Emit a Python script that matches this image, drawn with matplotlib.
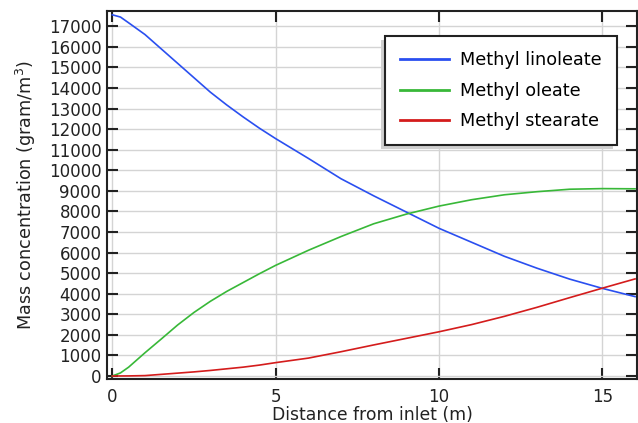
import matplotlib
matplotlib.use('Agg')
import matplotlib.pyplot as plt
from matplotlib.patches import Rectangle

plt.rcParams['font.family'] = ['DejaVu Sans']

# distance from inlet (m) and mass concentration (gram/m^3)
dist = [0, 0.25, 0.5, 1, 1.5, 2, 2.5, 3, 3.5, 4, 4.5, 5, 6, 7, 8, 9, 10, 11, 12, 13, 14, 15, 16]
linoleate = [17560, 17450, 17170, 16600, 15900, 15200, 14500, 13800, 13180, 12600, 12050, 11540,
             10580, 9590, 8760, 7970, 7180, 6500, 5820, 5240, 4710, 4260, 3860]
oleate = [0, 150, 430, 1130, 1800, 2480, 3090, 3630, 4110, 4540, 4970, 5380,
          6110, 6780, 7400, 7870, 8260, 8570, 8810, 8960, 9080, 9110, 9100]
stearate = [0, 2, 5, 20, 80, 140, 200, 270, 350, 430, 530, 650,
            870, 1180, 1510, 1830, 2150, 2500, 2900, 3340, 3810, 4270, 4720]
names = ['Methyl linoleate', 'Methyl oleate', 'Methyl stearate']
colors = ['#2a4ff0', '#38b838', '#d41c1c']

fig = plt.figure(figsize=(6.38, 4.23), dpi=100)
ax = fig.add_axes([107/638, 1 - 379.3/423, (637 - 107)/638, (379.3 - 11)/423])

for y, name, c in zip([linoleate, oleate, stearate], names, colors):
    ax.plot(dist, y, color=c, lw=1.2, label=name)

ax.set_xlim(-0.162, 16.06)
ax.set_ylim(-160, 17744)
ax.set_xticks([0, 5, 10, 15])
ax.set_yticks(range(0, 17001, 1000))
ax.grid(True, color='#d4d4d4', lw=1)
ax.set_axisbelow(True)
ax.tick_params(direction='in', length=8, width=1.5, top=True, right=True,
               labelsize=12, colors='#222222', pad=4)
ax.tick_params(axis='x', pad=6)
for s in ax.spines.values():
    s.set_linewidth(1.5)
    s.set_color('#222222')

ax.set_xlabel('Distance from inlet (m)', fontsize=12.4, color='#222222', labelpad=0.5)
ax.set_ylabel('Mass concentration (gram/m$^3$)', fontsize=12.7, color='#222222', labelpad=8)

leg = ax.legend(loc='upper left', bbox_to_anchor=((385 - 107)/530, 1 - (36 - 11)/368.3),
                prop={'size': 12.7}, frameon=True, fancybox=False, borderpad=0.85,
                handlelength=2.75, labelspacing=0.72, handletextpad=0.65, borderaxespad=0)
leg.get_frame().set_edgecolor('#222222')
leg.get_frame().set_linewidth(1.5)
leg.get_frame().set_alpha(1)
for h in leg.get_lines():
    h.set_linewidth(2)

# grey shadow, shifted left and down
fig.canvas.draw()
bb = leg.get_window_extent()
shadow = Rectangle((bb.x0 - 4, bb.y0 - 4), bb.width, bb.height, transform=None,
                   facecolor='#cfcfcf', edgecolor='none', zorder=4)
ax.add_artist(shadow)
leg.set_zorder(5)

fig.savefig('out.png', dpi=100)
